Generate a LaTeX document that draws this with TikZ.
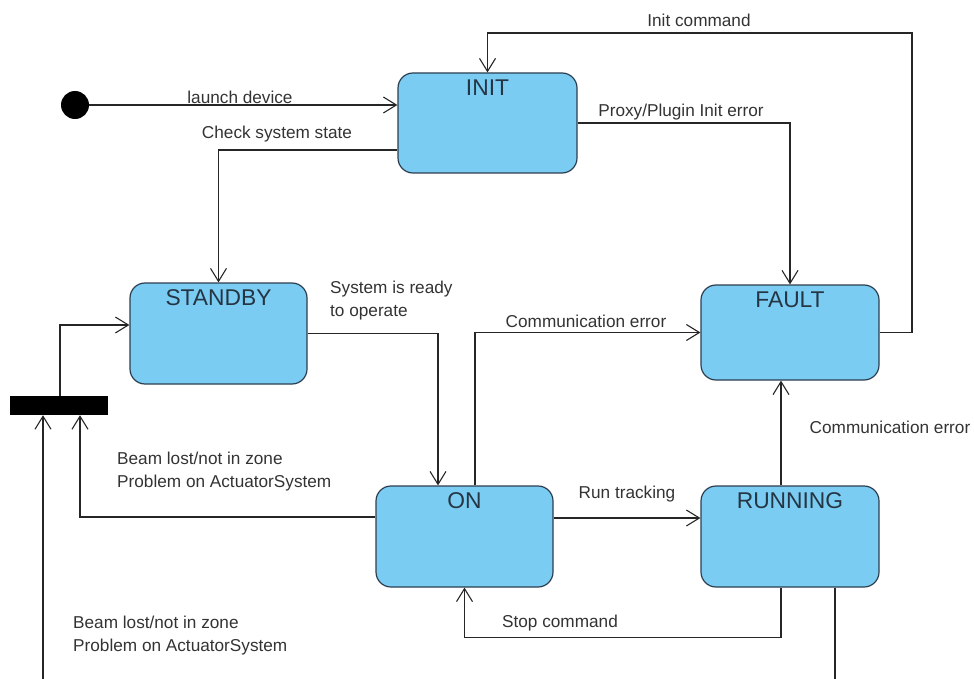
\documentclass[tikz,border=0pt]{standalone}
\usepackage{fontspec}
\setmainfont{Liberation Sans}
\usetikzlibrary{arrows.meta}
\usetikzlibrary{positioning}
\definecolor{statefill}{RGB}{122,204,242}
\definecolor{stateline}{RGB}{45,62,80}
\definecolor{lbltext}{RGB}{51,51,51}

\begin{document}
\begin{tikzpicture}[x=1pt, y=-1pt,
  state/.style={draw=stateline, line width=1.2pt, fill=statefill,
    rounded corners=15pt, inner sep=0pt},
  title/.style={anchor=north, inner sep=0pt, yshift=-7pt,
    font=\fontsize{22.8}{26}\selectfont, text=stateline!85!black},
  trans/.style={draw=black!85, line width=1.1pt,
    -{Straight Barb[length=13pt, width=16pt, line width=1.1pt]}},
  lbl/.style={inner sep=0pt, text=lbltext,
    font=\fontsize{17.2}{23}\selectfont}]

\useasboundingbox (0,0) rectangle (974,679);
\clip (0,0) rectangle (974,679);

%---------------------------------------
% States
%---------------------------------------
\node[state, minimum width=179pt, minimum height=100pt,
  label={[title]north:INIT}] (INIT) at (487.5,123) {};
\node[state, minimum width=177pt, minimum height=101pt,
  label={[title]north:STANDBY}] (STANDBY) at (218.5,333.5) {};
\node[state, minimum width=178pt, minimum height=95pt,
  label={[title]north:FAULT}] (FAULT) at (790,332.5) {};
\node[state, minimum width=177pt, minimum height=101pt,
  label={[title]north:ON}] (ON) at (464.5,536.5) {};
\node[state, minimum width=178pt, minimum height=101pt,
  label={[title]north:RUNNING}] (RUNNING) at (790,536.5) {};

% Initial state and fork bar
\node[circle, fill=black, minimum size=28pt, inner sep=0pt] (start) at (75,105) {};
\node[rectangle, fill=black, minimum width=98pt, minimum height=19pt,
  inner sep=0pt] (fork) at (59,405.5) {};

\coordinate (cmdcorner) at (912,33);

%---------------------------------------
% Transitions
%---------------------------------------
\draw[trans] (start.east) -- (start.east -| INIT.west);
\draw[trans] ([yshift=-27pt]INIT.west) -| (STANDBY.north);
\draw[trans] (INIT.east) -| (FAULT.north);
\draw[trans] (FAULT.east) -| (cmdcorner) -| (INIT.north);
\draw[trans] (STANDBY.east) -| ([xshift=-26.5pt]ON.north);
\draw[trans] ([xshift=10.5pt]ON.north) |- (FAULT.west);
\draw[trans] ([yshift=18.5pt]ON.east) -- ([yshift=18.5pt]RUNNING.west);
\draw[trans] ([xshift=-9pt]RUNNING.north) -- ([xshift=-9pt]FAULT.south);
\draw[trans] ([xshift=-9pt]RUNNING.south) -- ++(0,50) -| (ON.south);
\draw[trans] ([yshift=19.5pt]ON.west) -| ([xshift=21pt]fork.south);
\draw[trans] ([xshift=45pt]RUNNING.south) -- ++(0,130) -| ([xshift=-16pt]fork.south);
\draw[trans] ([xshift=1pt]fork.north) |- ([yshift=8.5pt]STANDBY.west);

%---------------------------------------
% Transition labels
%---------------------------------------
\node[lbl] (lblLaunch) at (240,97) {launch device};
\node[lbl] (lblCheck) at (277,134) {Check system state};
\node[lbl] (lblProxy) at (681,112) {Proxy/Plugin Init error};
\node[lbl] (lblInit) at (699,20) {Init command};
\node[lbl, anchor=west, align=left] (lblReady) at (330,300.5)
  {System is ready\\to operate};
\node[lbl] (lblCommOn) at (586,321) {Communication error};
\node[lbl] (lblRun) at (627,494) {Run tracking};
\node[lbl] (lblCommRun) at (890,427) {Communication error};
\node[lbl] (lblStop) at (560,623) {Stop command};
\node[lbl, anchor=west, align=left] (lblBeamOn) at (117,471.5)
  {Beam lost/not in zone\\Problem on ActuatorSystem};
\node[lbl, anchor=west, align=left] (lblBeamRun) at (73,635.5)
  {Beam lost/not in zone\\Problem on ActuatorSystem};

\end{tikzpicture}
\end{document}
